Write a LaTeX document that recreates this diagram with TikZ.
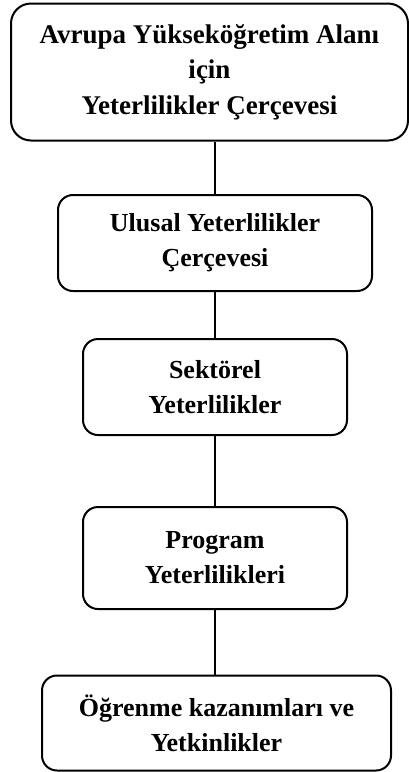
\documentclass[tikz,border=0pt]{standalone}
\usepackage{fontspec}
\setmainfont{Liberation Serif}
\begin{document}
\begin{tikzpicture}[x=1pt,y=-1pt,
  box/.style={draw=black, line width=2pt, fill=white, align=center, inner sep=0pt,
    font=\fontsize{26}{35}\selectfont\bfseries, rounded corners=15pt},
  conn/.style={draw=black, line width=1.8pt}]
\useasboundingbox (0,0) rectangle (409,772);
\node[box, rounded corners=20pt, minimum width=397pt, minimum height=137pt,
  font=\fontsize{27}{35.5}\selectfont\bfseries] (b1) at (209.5,72)
  {Avrupa Yükseköğretim Alanı\\için\\Yeterlilikler Çerçevesi};
\node[box, minimum width=314pt, minimum height=96pt] (b2) at (215,243)
  {Ulusal Yeterlilikler\\Çerçevesi};
\node[box, minimum width=264pt, minimum height=96pt] (b3) at (215,387)
  {Sektörel\\Yeterlilikler};
\node[box, minimum width=264pt, minimum height=102pt] (b4) at (215,558)
  {Program\\Yeterlilikleri};
\node[box, minimum width=349pt, minimum height=95pt] (b5) at (216.5,723)
  {Öğrenme kazanımları ve\\Yetkinlikler};
\draw[conn] (b2.north |- b1.south) -- (b2.north);
\draw[conn] (b2.south) -- (b3.north);
\draw[conn] (b3.south) -- (b4.north);
\draw[conn] (b4.south) -- (b4.south |- b5.north);
\end{tikzpicture}
\end{document}
